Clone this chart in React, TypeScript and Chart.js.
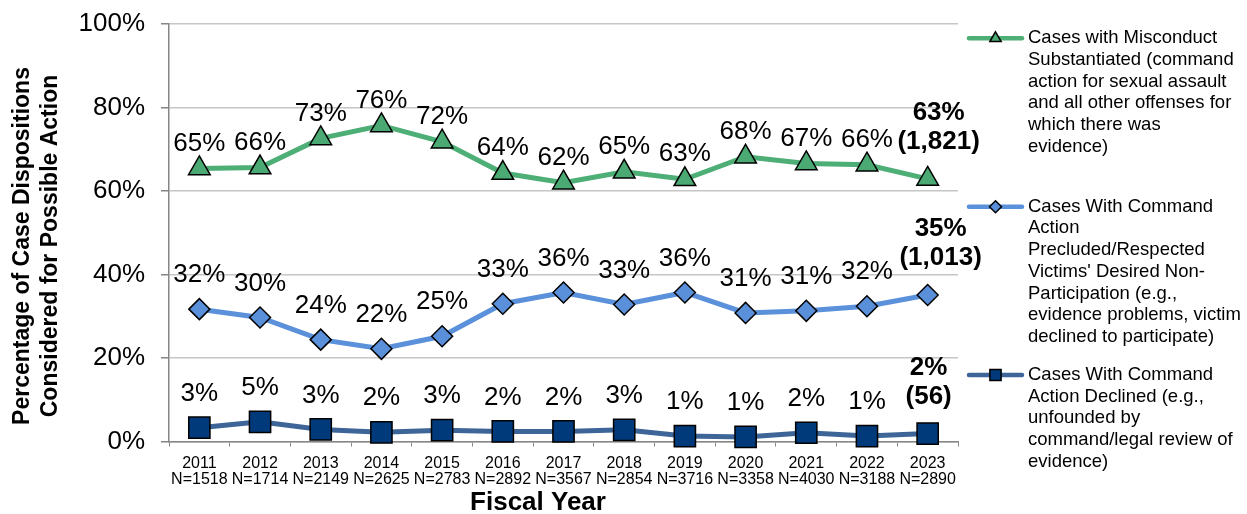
import React, { useEffect, useRef } from "react";
import { Chart, registerables } from "chart.js";

Chart.register(...registerables);

const years = ["2011", "2012", "2013", "2014", "2015", "2016", "2017", "2018", "2019", "2020", "2021", "2022", "2023"];
const sampleSizes = ["1518", "1714", "2149", "2625", "2783", "2892", "3567", "2854", "3716", "3358", "4030", "3188", "2890"];

const substantiated = [65.4, 65.6, 72.6, 75.7, 71.8, 64.3, 62.0, 64.6, 62.8, 68.2, 66.6, 66.3, 62.9];
const precluded = [31.7, 29.7, 24.4, 22.2, 25.2, 33.0, 35.7, 32.8, 35.7, 30.8, 31.3, 32.4, 35.1];
const declined = [3.3, 4.7, 2.9, 2.2, 2.7, 2.4, 2.4, 2.8, 1.3, 1.1, 2.1, 1.3, 1.9];

const latestCounts = ["1,821", "1,013", "56"];

const legendLines = [
  ["Cases with Misconduct", "Substantiated (command", "action for sexual assault", "and all other offenses for", "which there was", "evidence)"],
  ["Cases With Command", "Action", "Precluded/Respected", "Victims' Desired Non-", "Participation (e.g.,", "evidence problems, victim", "declined to participate)"],
  ["Cases With Command", "Action Declined (e.g.,", "unfounded by", "command/legal review of", "evidence)"],
];

const yTicks = [0, 20, 40, 60, 80, 100];
const yTitleLines = ["Percentage of Case Dispositions", "Considered for Possible Action"];
const xTitle = "Fiscal Year";

const FONT = "'Liberation Sans', Arial, Helvetica, sans-serif";

const seriesStyle = [
  { line: "#4DAE76", fill: "#4BAA73", point: "triangle", radius: 12.5, legendRadius: 6.5, labelOffset: 25, endDx: 11 },
  { line: "#5A91DA", fill: "#5A8FD9", point: "rectRot", radius: 10.5, legendRadius: 6, labelOffset: 34, endDx: 13 },
  { line: "#3D6598", fill: "#003A7B", point: "rect", radius: 15, legendRadius: 8, labelOffset: 34, endDx: 1 },
];

const legendY = [38.3, 206.7, 375];

const valueLabelPlugin = {
  id: "valueLabels",
  afterDatasetsDraw(chart: any) {
    const ctx = chart.ctx;
    ctx.save();
    ctx.fillStyle = "#000";
    ctx.textAlign = "center";
    ctx.textBaseline = "middle";
    chart.data.datasets.forEach((ds: any, di: number) => {
      const meta = chart.getDatasetMeta(di);
      const st = seriesStyle[di];
      meta.data.forEach((pt: any, i: number) => {
        const v = Math.round(ds.data[i]) + "%";
        if (i === meta.data.length - 1) {
          ctx.font = `bold 26px ${FONT}`;
          ctx.fillText(v, pt.x + st.endDx, pt.y - 66);
          ctx.fillText("(" + latestCounts[di] + ")", pt.x + st.endDx, pt.y - 37);
        } else {
          ctx.font = `26px ${FONT}`;
          ctx.fillText(v, pt.x, pt.y - st.labelOffset);
        }
      });
    });
    ctx.restore();
  },
};

const axisTitlePlugin = {
  id: "axisTitles",
  afterDraw(chart: any) {
    const ctx = chart.ctx;
    ctx.save();
    ctx.fillStyle = "#000";
    ctx.textAlign = "center";
    ctx.textBaseline = "middle";
    ctx.font = `bold 23px ${FONT}`;
    ctx.translate(0, 246);
    ctx.rotate(-Math.PI / 2);
    yTitleLines.forEach((t, k) => ctx.fillText(t, 0, 23 + k * 28));
    ctx.restore();
    ctx.save();
    ctx.fillStyle = "#000";
    ctx.textAlign = "center";
    ctx.textBaseline = "middle";
    ctx.font = `bold 26px ${FONT}`;
    ctx.fillText(xTitle, 538, 503);
    ctx.restore();
  },
};

const sideLegendPlugin = {
  id: "sideLegend",
  afterDraw(chart: any) {
    const ctx = chart.ctx;
    ctx.save();
    seriesStyle.forEach((st, i) => {
      const y = legendY[i];
      ctx.strokeStyle = st.line;
      ctx.lineWidth = 4.5;
      ctx.lineCap = "round";
      ctx.beginPath();
      ctx.moveTo(969, y);
      ctx.lineTo(1022, y);
      ctx.stroke();
      ctx.lineWidth = 1.5;
      ctx.strokeStyle = "#000";
      ctx.fillStyle = st.fill;
      ctx.beginPath();
      const r = st.legendRadius;
      const cx = 995.5;
      if (st.point === "triangle") {
        ctx.moveTo(cx, y - r);
        ctx.lineTo(cx + r * 0.87, y + r * 0.5);
        ctx.lineTo(cx - r * 0.87, y + r * 0.5);
        ctx.closePath();
      } else if (st.point === "rectRot") {
        ctx.moveTo(cx, y - r);
        ctx.lineTo(cx + r, y);
        ctx.lineTo(cx, y + r);
        ctx.lineTo(cx - r, y);
        ctx.closePath();
      } else {
        const s = r * 0.7;
        ctx.rect(cx - s, y - s, 2 * s, 2 * s);
      }
      ctx.fill();
      ctx.stroke();
      ctx.fillStyle = "#000";
      ctx.font = `18.5px ${FONT}`;
      ctx.textAlign = "left";
      ctx.textBaseline = "middle";
      legendLines[i].forEach((t, k) => {
        ctx.fillText(t, 1028, y + k * 21.7);
      });
    });
    ctx.restore();
  },
};

export default function App() {
  const ref = useRef<HTMLCanvasElement>(null);
  useEffect(() => {
    if (!ref.current) return;
    const seriesData = [substantiated, precluded, declined];
    const chart = new Chart(ref.current, {
      type: "line",
      data: {
        labels: years.map((y, i) => [y, "N=" + sampleSizes[i]]),
        datasets: seriesData.map((d, i) => ({
          label: legendLines[i].join(" "),
          data: d,
          borderColor: seriesStyle[i].line,
          backgroundColor: seriesStyle[i].fill,
          borderWidth: 5,
          pointStyle: seriesStyle[i].point as any,
          pointRadius: seriesStyle[i].radius,
          pointBackgroundColor: seriesStyle[i].fill,
          pointBorderColor: "#000",
          pointBorderWidth: 1.5,
          tension: 0,
          clip: false as any,
        })),
      },
      options: {
        animation: false,
        responsive: true,
        maintainAspectRatio: false,
        layout: { padding: { left: 0, right: 289, top: 24, bottom: 0 } },
        plugins: {
          legend: { display: false },
          tooltip: { enabled: false },
        },
        scales: {
          x: {
            offset: true,
            afterFit: (scale: any) => {
              scale.height = 72.5;
              scale.paddingLeft = 0;
              scale.paddingRight = 0;
            },
            grid: {
              offset: true,
              drawOnChartArea: false,
              drawTicks: true,
              tickLength: 5,
              color: "#868686",
            },
            border: { color: "#868686", width: 1.5 },
            ticks: {
              autoSkip: false,
              maxRotation: 0,
              minRotation: 0,
              color: "#000",
              padding: 9,
              font: { family: FONT, size: 16, lineHeight: 1.0 },
            },
          },
          y: {
            min: 0,
            max: 100,
            afterBuildTicks: (scale: any) => {
              scale.ticks = yTicks.map((v) => ({ value: v }));
            },
            afterFit: (scale: any) => {
              scale.width = 169;
              scale.paddingTop = 0;
              scale.paddingBottom = 0;
            },
            grid: {
              color: "#c6c6c6",
              lineWidth: 1.5,
              tickLength: 8,
              tickColor: "#868686",
            },
            border: { color: "#868686", width: 1.5 },
            ticks: {
              color: "#000",
              padding: 16,
              font: { family: FONT, size: 26 },
              callback: (v: any) => v + "%",
            },
          },
        },
      },
      plugins: [valueLabelPlugin, axisTitlePlugin, sideLegendPlugin],
    });
    return () => chart.destroy();
  }, []);
  return (
    <div style={{ position: "absolute", left: 0, top: 0, width: 1247, height: 514, background: "#fff" }}>
      <canvas ref={ref} />
    </div>
  );
}
